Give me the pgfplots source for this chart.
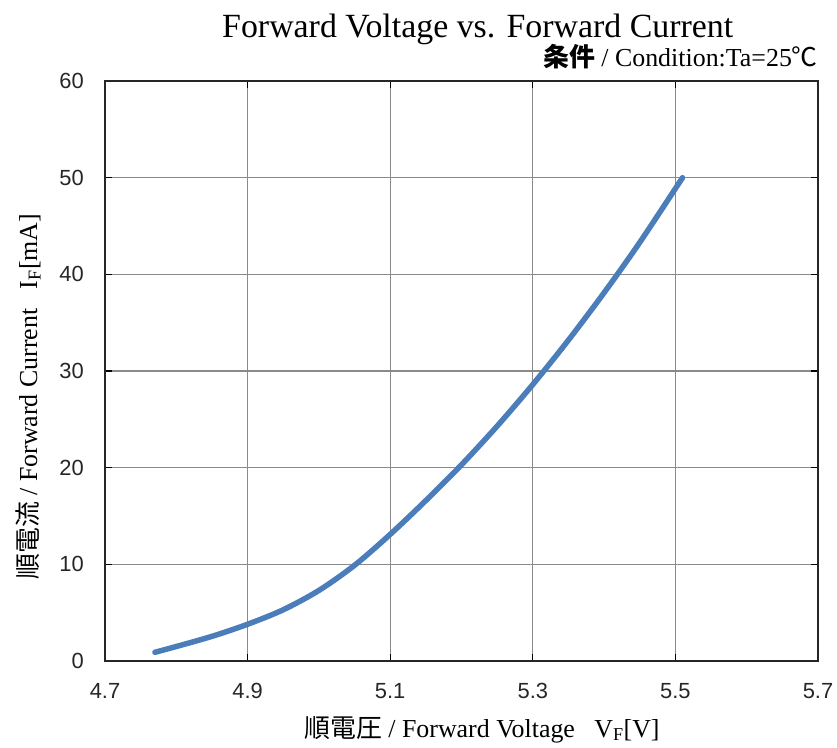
\documentclass[border=0pt]{standalone}
\usepackage{fontspec}
\setmainfont{Liberation Serif}
\setsansfont{Liberation Sans}
\newfontfamily\cjk{Noto Sans CJK JP}
\usepackage{pgfplots}
\pgfplotsset{compat=1.18}

\definecolor{curveblue}{HTML}{4A7DBA}
\definecolor{gridgray}{HTML}{8A8A8A}

% Forward voltage (V) vs. forward current (mA), Ta = 25 C
\begin{document}
\begin{tikzpicture}
\useasboundingbox (0,0) rectangle (837bp,748bp);
\begin{axis}[
  at={(105bp,87bp)}, anchor=south west,
  scale only axis,
  width=713bp, height=580bp,
  xmin=4.7, xmax=5.7, ymin=0, ymax=60,
  xtick={4.7,4.9,5.1,5.3,5.5,5.7},
  ytick={0,10,20,30,40,50,60},
  xticklabels={4.7,4.9,5.1,5.3,5.5,5.7},
  grid=major,
  major grid style={gridgray, line width=1.1bp},
  axis line style={black!85, line width=1.6bp},
  tick style={black, line width=1.3bp},
  tick align=inside,
  major tick length=7bp,
  /pgf/number format/assume math mode=true,
  tick label style={font=\sffamily\fontsize{22}{22}\selectfont, text=black!85},
  xticklabel style={anchor=base, yshift=-38bp, inner sep=0pt},
  yticklabel style={anchor=east, xshift=-21bp, inner sep=0pt},
]
\addplot[curveblue, line width=5.5bp, line cap=round, line join=round, smooth] coordinates {
  (4.77, 0.9)
  (4.80, 1.5)
  (4.85, 2.55)
  (4.90, 3.8)
  (4.95, 5.3)
  (5.00, 7.3)
  (5.05, 9.9)
  (5.10, 13.1)
  (5.15, 16.6)
  (5.20, 20.3)
  (5.25, 24.3)
  (5.30, 28.6)
  (5.35, 33.2)
  (5.40, 38.1)
  (5.45, 43.3)
  (5.51, 50.0)
};
\end{axis}

% titles and axis labels
\node[anchor=base west, inner sep=0pt, font=\fontsize{34}{34}\selectfont]
  at (222bp,710.5bp) {Forward Voltage vs. Forward Current};
\node[anchor=base east, inner sep=0pt, font=\fontsize{26}{26}\selectfont]
  at (818bp,681bp) {{\cjk\bfseries 条件} / Condition:Ta=25{\cjk ℃}};
\node[anchor=base west, inner sep=0pt, font=\fontsize{26}{26}\selectfont]
  at (304bp,11bp) {{\cjk 順電圧} / Forward Voltage\hspace{0.75em}V\textsubscript{F}[V]};
\node[rotate=90, anchor=base west, inner sep=0pt, font=\fontsize{26}{26}\selectfont]
  at (37bp,168bp) {{\cjk 順電流} / Forward Current\hspace{0.75em}I\textsubscript{F}[mA]};
\end{tikzpicture}
\end{document}
